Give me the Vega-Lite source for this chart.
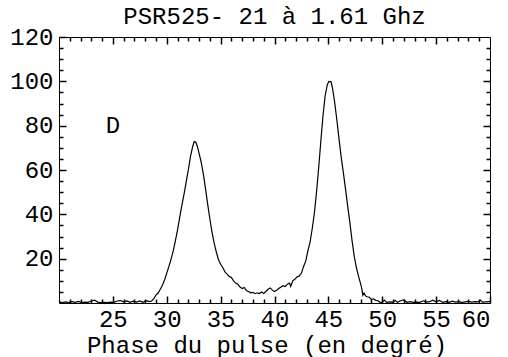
{
  "$schema": "https://vega.github.io/schema/vega-lite/v6.json",
  "width": 431,
  "height": 266,
  "autosize": "none",
  "padding": {"left": 59, "top": 37, "right": 18, "bottom": 54},
  "background": "white",
  "title": {"text": "PSR525- 21 à 1.61 Ghz", "font": "Liberation Mono", "fontSize": 24, "fontWeight": "normal", "color": "black", "baseline": "alphabetic", "offset": -23, "frame": "group", "anchor": "middle"},
  "config": {
    "view": {"stroke": "black", "strokeWidth": 1},
    "axis": {"domain": false, "grid": false, "ticks": true, "minExtent": 0, "tickColor": "black", "tickWidth": 1.5, "labelFont": "Liberation Mono", "labelFontSize": 24, "labelColor": "black", "titleFont": "Liberation Mono", "titleFontSize": 24, "titleFontWeight": "normal", "titleColor": "black", "labelOverlap": false}
  },
  "datasets": {
    "pulse": [
      {"x":20.0,"y":1.2},{"x":20.1,"y":0.4},{"x":20.3,"y":0.2},{"x":20.6,"y":0.5},{"x":20.9,"y":0.2},{"x":21.2,"y":0.6},{"x":21.5,"y":0.3},{"x":21.8,"y":0.7},{"x":22.1,"y":0.2},{"x":22.4,"y":0.4},{"x":22.7,"y":0.3},{"x":23.0,"y":0.9},{"x":23.3,"y":1.3},{"x":23.6,"y":0.4},{"x":23.9,"y":0.2},{"x":24.2,"y":0.3},{"x":24.5,"y":0.2},{"x":24.8,"y":0.4},{"x":25.1,"y":0.3},{"x":25.4,"y":0.9},{"x":25.7,"y":1.1},{"x":26.0,"y":0.5},{"x":26.3,"y":0.9},{"x":26.6,"y":0.3},{"x":26.9,"y":0.8},{"x":27.2,"y":0.4},{"x":27.5,"y":0.9},{"x":27.8,"y":0.3},{"x":28.1,"y":1.1},{"x":28.4,"y":0.6},{"x":28.6,"y":0.9},{"x":28.8,"y":2.0},{"x":29.0,"y":3.6},{"x":29.2,"y":4.5},{"x":29.4,"y":6.2},{"x":29.6,"y":8.0},{"x":29.8,"y":10.5},{"x":30.0,"y":13.5},{"x":30.2,"y":16.5},{"x":30.4,"y":19.8},{"x":30.6,"y":23.5},{"x":30.8,"y":28.0},{"x":31.0,"y":33.0},{"x":31.2,"y":38.5},{"x":31.4,"y":44.0},{"x":31.6,"y":49.0},{"x":31.8,"y":54.5},{"x":32.0,"y":60.0},{"x":32.2,"y":66.0},{"x":32.4,"y":70.5},{"x":32.55,"y":72.8},{"x":32.7,"y":72.5},{"x":32.85,"y":70.5},{"x":33.0,"y":67.5},{"x":33.2,"y":63.5},{"x":33.4,"y":58.0},{"x":33.6,"y":51.5},{"x":33.8,"y":44.5},{"x":34.0,"y":38.0},{"x":34.2,"y":32.0},{"x":34.4,"y":27.0},{"x":34.6,"y":23.0},{"x":34.8,"y":19.5},{"x":35.0,"y":17.5},{"x":35.2,"y":16.0},{"x":35.4,"y":14.0},{"x":35.6,"y":13.0},{"x":35.8,"y":12.0},{"x":36.0,"y":11.5},{"x":36.2,"y":10.0},{"x":36.4,"y":9.0},{"x":36.6,"y":8.5},{"x":36.8,"y":7.2},{"x":37.0,"y":6.5},{"x":37.2,"y":7.0},{"x":37.4,"y":5.5},{"x":37.6,"y":5.2},{"x":37.8,"y":4.6},{"x":38.0,"y":4.8},{"x":38.2,"y":4.2},{"x":38.4,"y":4.6},{"x":38.6,"y":4.3},{"x":38.8,"y":5.0},{"x":39.0,"y":4.3},{"x":39.2,"y":5.2},{"x":39.4,"y":6.2},{"x":39.6,"y":6.8},{"x":39.8,"y":5.8},{"x":40.0,"y":5.2},{"x":40.2,"y":5.8},{"x":40.4,"y":6.5},{"x":40.6,"y":7.2},{"x":40.8,"y":7.8},{"x":41.0,"y":7.4},{"x":41.2,"y":8.5},{"x":41.4,"y":9.0},{"x":41.5,"y":7.5},{"x":41.7,"y":10.0},{"x":41.9,"y":10.8},{"x":42.1,"y":11.8},{"x":42.3,"y":12.2},{"x":42.5,"y":13.5},{"x":42.7,"y":16.5},{"x":42.9,"y":19.0},{"x":43.1,"y":23.5},{"x":43.3,"y":27.5},{"x":43.5,"y":33.5},{"x":43.7,"y":40.5},{"x":43.9,"y":50.0},{"x":44.1,"y":61.0},{"x":44.3,"y":73.0},{"x":44.5,"y":84.5},{"x":44.7,"y":93.5},{"x":44.9,"y":98.5},{"x":45.05,"y":100.0},{"x":45.25,"y":99.8},{"x":45.4,"y":96.5},{"x":45.6,"y":90.0},{"x":45.8,"y":82.0},{"x":46.0,"y":73.5},{"x":46.2,"y":65.5},{"x":46.4,"y":58.5},{"x":46.6,"y":51.0},{"x":46.8,"y":43.5},{"x":47.0,"y":36.0},{"x":47.2,"y":28.0},{"x":47.4,"y":21.0},{"x":47.6,"y":16.0},{"x":47.8,"y":12.0},{"x":48.0,"y":8.5},{"x":48.1,"y":6.5},{"x":48.2,"y":3.5},{"x":48.3,"y":4.5},{"x":48.45,"y":3.2},{"x":48.6,"y":2.8},{"x":48.8,"y":2.6},{"x":49.0,"y":1.6},{"x":49.2,"y":1.9},{"x":49.4,"y":1.2},{"x":49.6,"y":1.0},{"x":49.8,"y":0.3},{"x":50.0,"y":0.4},{"x":50.2,"y":1.3},{"x":50.4,"y":0.3},{"x":50.7,"y":0.5},{"x":51.0,"y":0.4},{"x":51.2,"y":1.2},{"x":51.4,"y":0.3},{"x":51.7,"y":1.0},{"x":52.0,"y":1.4},{"x":52.3,"y":0.3},{"x":52.6,"y":0.6},{"x":52.9,"y":0.3},{"x":53.2,"y":0.4},{"x":53.5,"y":0.3},{"x":53.8,"y":1.0},{"x":54.1,"y":0.4},{"x":54.4,"y":0.6},{"x":54.7,"y":1.3},{"x":55.0,"y":0.5},{"x":55.3,"y":1.2},{"x":55.6,"y":0.3},{"x":55.9,"y":0.6},{"x":56.2,"y":0.3},{"x":56.5,"y":0.8},{"x":56.8,"y":0.4},{"x":57.1,"y":0.6},{"x":57.4,"y":0.3},{"x":57.7,"y":0.5},{"x":58.0,"y":0.7},{"x":58.3,"y":0.4},{"x":58.6,"y":0.6},{"x":58.9,"y":0.5},{"x":59.1,"y":1.3},{"x":59.3,"y":0.4},{"x":59.6,"y":0.5},{"x":60.0,"y":0.6}
    ],
    "label": [{"x": 25, "y": 80, "t": "D"}]
  },
  "layer": [
    {
      "data": {"name": "pulse"},
      "mark": {"type": "line", "color": "black", "strokeWidth": 1.2},
      "encoding": {
        "x": {"field": "x", "type": "quantitative", "scale": {"domain": [20, 60], "nice": false, "zero": false},
          "axis": {"orient": "bottom", "values": [25,30,35,40,45,50,55,60], "tickSize": -7, "tickColor": "black", "tickWidth": 1.5,
            "labelFlush": true, "labelPadding": 11,
            "title": "Phase du pulse (en degré)", "titleBaseline": "alphabetic", "titleX": 207.5, "titleY": 49, "titleAlign": "center"}},
        "y": {"field": "y", "type": "quantitative", "scale": {"domain": [0, 120], "nice": false},
          "axis": {"orient": "left", "values": [20,40,60,80,100,120], "tickSize": -7, "tickColor": "black", "tickWidth": 1.5,
            "labelFlush": false, "labelPadding": 13, "title": null}}
      }
    },
    {
      "data": {"name": "label"},
      "mark": {"type": "text", "font": "Liberation Mono", "fontSize": 24, "color": "black"},
      "encoding": {
        "x": {"field": "x", "type": "quantitative", "scale": {"domain": [20, 60], "nice": false, "zero": false},
          "axis": {"orient": "top", "values": [25,30,35,40,45,50,55], "tickSize": -7, "tickColor": "black", "tickWidth": 1.5, "labels": false, "title": null}},
        "y": {"field": "y", "type": "quantitative", "scale": {"domain": [0, 120], "nice": false},
          "axis": {"orient": "right", "values": [20,40,60,80,100], "tickSize": -7, "tickColor": "black", "tickWidth": 1.5, "labels": false, "title": null}},
        "text": {"field": "t"}
      }
    },
    {
      "data": {"name": "label"},
      "mark": {"type": "point", "opacity": 0},
      "encoding": {
        "x": {"field": "x", "type": "quantitative", "scale": {"domain": [20, 60], "nice": false, "zero": false},
          "axis": {"orient": "bottom", "values": [21,22,23,24,26,27,28,29,31,32,33,34,36,37,38,39,41,42,43,44,46,47,48,49,51,52,53,54,56,57,58,59], "tickSize": -4, "tickColor": "black", "tickWidth": 1.5, "labels": false, "title": null}},
        "y": {"field": "y", "type": "quantitative", "scale": {"domain": [0, 120], "nice": false},
          "axis": {"orient": "left", "values": [5,10,15,25,30,35,45,50,55,65,70,75,85,90,95,105,110,115], "tickSize": -4, "tickColor": "black", "tickWidth": 1.5, "labels": false, "title": null}}
      }
    },
    {
      "data": {"name": "label"},
      "mark": {"type": "point", "opacity": 0},
      "encoding": {
        "x": {"field": "x", "type": "quantitative", "scale": {"domain": [20, 60], "nice": false, "zero": false},
          "axis": {"orient": "top", "values": [21,22,23,24,26,27,28,29,31,32,33,34,36,37,38,39,41,42,43,44,46,47,48,49,51,52,53,54,56,57,58,59], "tickSize": -4, "tickColor": "black", "tickWidth": 1.5, "labels": false, "title": null}},
        "y": {"field": "y", "type": "quantitative", "scale": {"domain": [0, 120], "nice": false},
          "axis": {"orient": "right", "values": [5,10,15,25,30,35,45,50,55,65,70,75,85,90,95,105,110,115], "tickSize": -4, "tickColor": "black", "tickWidth": 1.5, "labels": false, "title": null}}
      }
    }
  ],
  "resolve": {"axis": {"x": "independent", "y": "independent"}}
}
